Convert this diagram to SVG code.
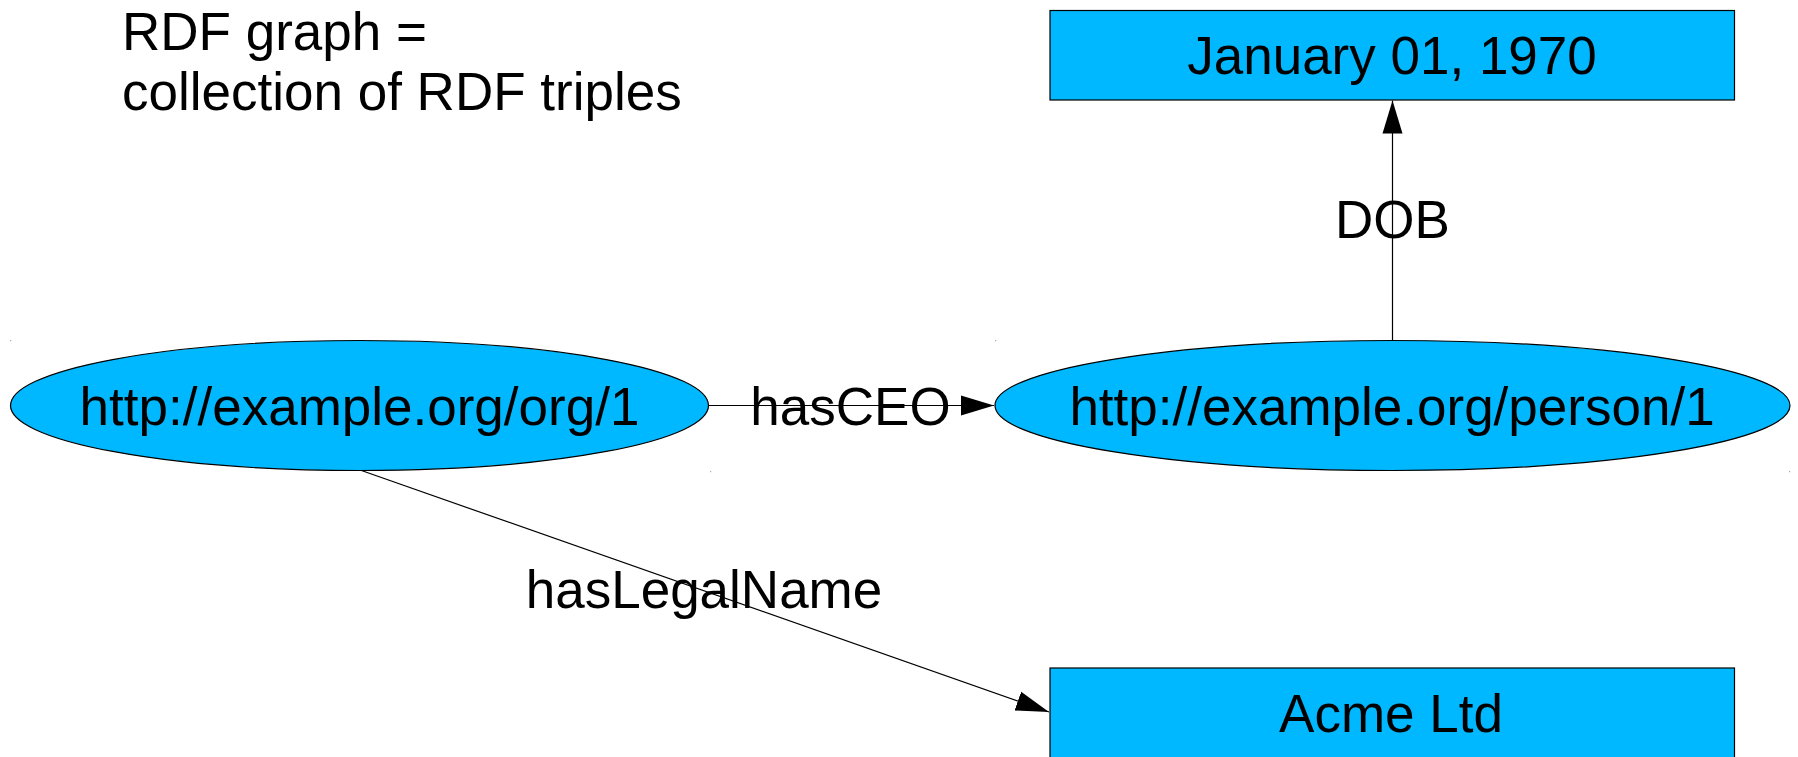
<svg xmlns="http://www.w3.org/2000/svg" width="1798" height="757" viewBox="0 0 1798 757">
<style>
text{font-family:"Liberation Sans",Arial,sans-serif;font-size:53px;fill:#000}
.n{fill:#00b8ff;stroke:#000;stroke-width:1.2}
.c{stroke:#000;stroke-width:1.2;fill:none}
.m{text-anchor:middle}
.d{fill:#aaa}
</style>
<defs>
<marker id="ah" markerUnits="userSpaceOnUse" markerWidth="34" markerHeight="22" refX="33" refY="10" orient="auto" viewBox="0 0 34 20">
<path d="M0,0 L33,10 L0,20 Z" fill="#000"/>
</marker>
</defs>
<rect width="1798" height="757" fill="#fff"/>
<g id="title">
<text x="122" y="50">RDF graph =</text>
<text x="122" y="110">collection of RDF triples</text>
</g>
<g id="connectors">
<g id="e-hasCEO">
<line class="c" x1="708" y1="405.5" x2="994" y2="405.5" marker-end="url(#ah)"/>
<text class="m" x="850.5" y="425">hasCEO</text>
</g>
<g id="e-DOB">
<line class="c" x1="1392.5" y1="340.5" x2="1392.5" y2="100.5" marker-end="url(#ah)"/>
<text class="m" x="1392.5" y="238">DOB</text>
</g>
<g id="e-hasLegalName">
<line class="c" x1="360" y1="470" x2="1049" y2="712" marker-end="url(#ah)"/>
<text class="m" x="704" y="608">hasLegalName</text>
</g>
</g>
<g id="n-org">
<ellipse class="n" cx="359.5" cy="405.5" rx="349" ry="65"/>
<text class="m" x="359.5" y="425">http://example.org/org/1</text>
</g>
<g id="n-person">
<ellipse class="n" cx="1392.5" cy="405.5" rx="397.5" ry="65"/>
<text class="m" x="1392" y="425">http://example.org/person/1</text>
</g>
<g id="n-dob">
<rect class="n" x="1050" y="10.5" width="684.5" height="89.5"/>
<text class="m" x="1392" y="74">January 01, 1970</text>
</g>
<g id="n-acme">
<rect class="n" x="1050" y="668" width="684.5" height="100"/>
<text class="m" x="1391" y="731.5">Acme Ltd</text>
</g>
<g id="marks">
<rect class="d" x="10" y="340" width="1.2" height="1.2"/>
<rect class="d" x="995" y="340" width="1.2" height="1.2"/>
<rect class="d" x="710" y="471" width="1.2" height="1.2"/>
<rect class="d" x="1789" y="471" width="1.2" height="1.2"/>
</g>
</svg>
